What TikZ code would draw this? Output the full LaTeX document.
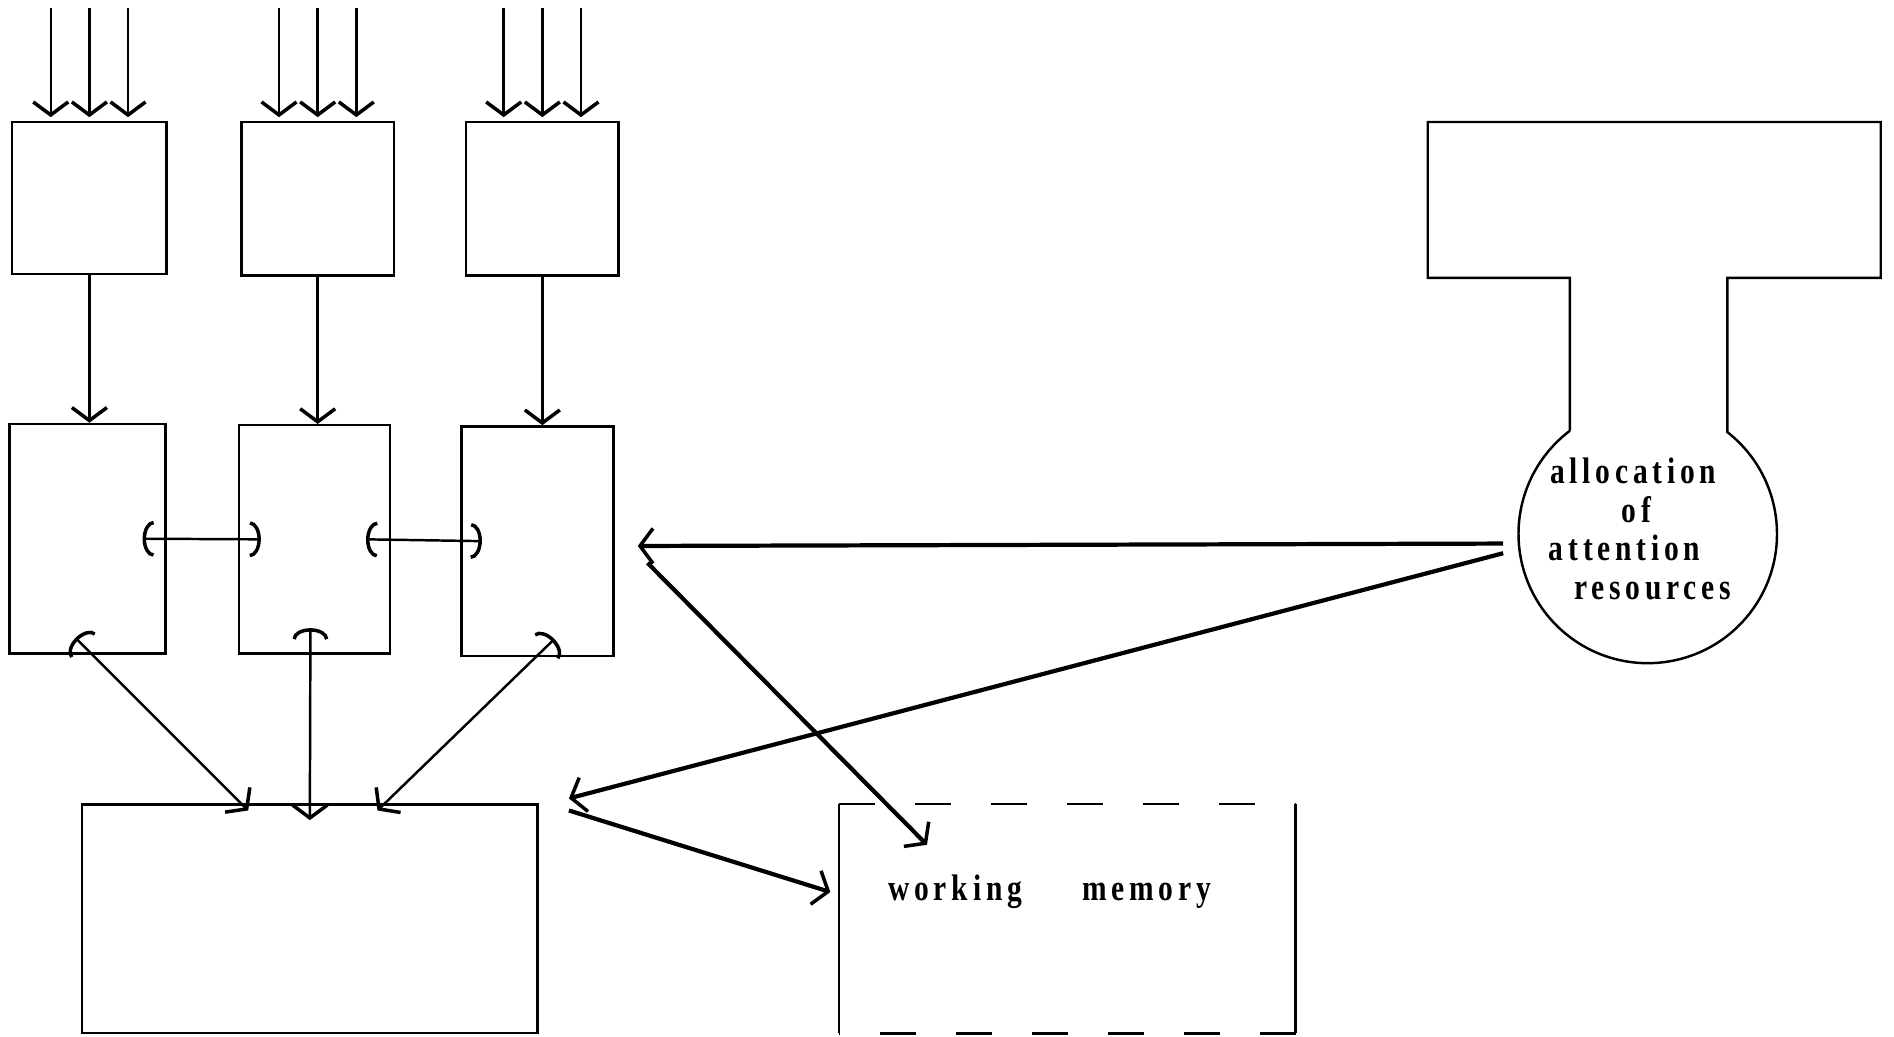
\documentclass[tikz,border=0pt]{standalone}
\usepackage{fontspec}
\setmainfont{Liberation Serif}
\newfontfamily\memfont[FakeStretch=0.8, LetterSpace=13]{Liberation Serif}
\usepackage{tikz}
\usetikzlibrary{arrows.meta,calc,fit}
\tikzset{
  >={Straight Barb[length=1.3mm, width=3.5mm, line width=1pt]},
  barc/.tip={Arc Barb[length=1.1mm, width=3.6mm, line width=1pt]},
  mbox/.style={draw=black, line width=0.7pt, inner sep=0pt},
  mline/.style={draw=black, line width=0.7pt},
  marr/.style={->, line width=0.7pt},
  mdbl/.style={arrows={barc-barc}, line width=0.7pt},
  mlink/.style={arrows={<-barc}, line width=0.7pt},
  mthick/.style={->, line width=1.2pt},
  mtext/.style={font=\memfont\bfseries\fontsize{10.5}{11}\selectfont, align=center},
  mlbl/.style={font=\memfont\bfseries\fontsize{10.5}{11}\selectfont},
}
\begin{document}
\begin{tikzpicture}[x=0.1208mm, y=-0.1208mm]
  \useasboundingbox (0,0) rectangle (1568,858);

  % input modules
  \node[mbox, fit={(10,101) (138,227)}]  (in1) {};
  \node[mbox, fit={(200,101) (326,228)}] (in2) {};
  \node[mbox, fit={(386,101) (512,228)}] (in3) {};

  % processing modules
  \node[mbox, fit={(8,351) (137,541)}]   (mid1) {};
  \node[mbox, fit={(198,352) (323,541)}] (mid2) {};
  \node[mbox, fit={(382,353) (508,543)}] (mid3) {};

  % lower store and working memory
  \node[mbox, fit={(68,666) (445,855)}] (work) {};
  \node[inner sep=0pt, fit={(695,666) (1072,855)}] (wm) {};
  \draw[mline] (wm.north west) -- (wm.south west);
  \draw[mline] (wm.north east) -- (wm.south east);
  \draw[mline, dash pattern=on 3.6mm off 4mm] (wm.north west) -- (wm.north east);
  \draw[mline, dash pattern=on 3.6mm off 4mm] (wm.south east) -- (wm.south west);
  \node[mlbl] (wmlbl) at (869,738) {working\hspace{6mm}memory};

  % attention resources
  \node[circle, minimum size=25.85mm, inner sep=0pt, mtext] (alloc) at (1364,438)
    {allocation\rule{2.9mm}{0pt}\\of\rule{2.2mm}{0pt}\\attention\rule{4.6mm}{0pt}\\\rule{1mm}{0pt}resources};
  \draw[mline] (1299.6,356.5) -- (1299.6,230) -- (1182,230) -- (1182,101)
    -- (1557,101) -- (1557,230) -- (1430,230) -- (1430,357.7)
    arc[start angle=-52, end angle=233, radius=107];

  % inputs
  \foreach \b in {in1,in2,in3}
    \foreach \dx in {-32,0,32}
      \draw[marr] ($(\b.north)+(\dx,-93)$) -- ($(\b.north)+(\dx,-3)$);

  \foreach \i in {1,2,3}
    \draw[marr] (in\i.south) -- (in\i.south |- mid\i.north);

  % lateral links
  \draw[mdbl] ($(mid1.east)+(-20,0)$) -- ($(mid2.west)+(19,0)$);
  \draw[mdbl] ($(mid2.east)+(-21,0)$) -- ($(mid3.west)+(18,0)$);

  % links to the lower store
  \draw[mlink] ($(work.north)+(-51,6)$) -- ($(mid1.south)+(-10,-14)$);
  \draw[mlink] ($(work.north)+(0,14)$)  -- ($(mid2.south)+(-3.5,-22)$);
  \draw[mlink] ($(work.north)+(56,6)$)  -- ($(mid3.south)+(14,-15)$);

  % allocation arrows
  \coordinate (tipA) at ($(mid3.east)+(19,4)$);
  \coordinate (tipB) at ($(work.north east)+(25,-4)$);
  \draw[mthick] ($(alloc.west)+(-12,12)$) -- (tipA);
  \draw[mthick] ($(alloc.west)+(-12,20)$) -- (tipB);
  \draw[mthick] ($(tipA)+(8,14)$) -- ($(wm.north west)+(73,34)$);
  \draw[mthick] ($(tipB)+(0,10)$) -- ($(wm.west)+(-7,-22)$);

\end{tikzpicture}
\end{document}
